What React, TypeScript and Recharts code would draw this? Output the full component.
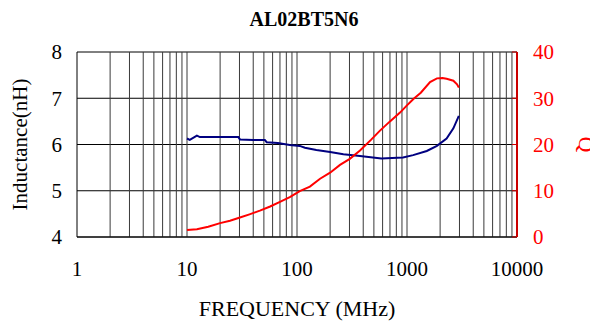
import { ComposedChart, Line, XAxis, YAxis, CartesianGrid, ReferenceLine, Label } from "recharts";

// frequency axis (MHz, log)
const freqTicks = [1, 10, 100, 1000, 10000];
const decades = [1, 10, 100, 1000];
const gridSteps = [2, 3, 4, 5, 6, 7, 8, 9, 10];

// left axis: inductance (nH)
const indTicks = [4, 5, 6, 7, 8];
const indFreq = [10, 10.6, 12.3, 13.1, 20, 29.3, 30.3, 40, 51, 53, 67, 86, 106, 118, 150, 200, 264, 374, 585, 920, 1137, 1513, 1871, 2290, 2640, 2960];
const indValue = [6.13, 6.1, 6.19, 6.16, 6.16, 6.16, 6.11, 6.1, 6.1, 6.05, 6.03, 5.99, 5.97, 5.93, 5.88, 5.84, 5.79, 5.75, 5.7, 5.72, 5.77, 5.86, 5.97, 6.13, 6.35, 6.62];

// right axis: Q
const qTicks = [0, 10, 20, 30, 40];
const qFreq = [10, 12.3, 15.6, 20, 24.6, 30.3, 37, 46, 57, 70, 86, 106, 131, 162, 200, 246, 302, 374, 470, 568, 700, 864, 994, 1150, 1335, 1620, 1871, 2100, 2290, 2640, 2850, 2960];
const qValue = [1.5, 1.7, 2.2, 3.0, 3.5, 4.2, 4.9, 5.7, 6.6, 7.6, 8.6, 9.9, 10.9, 12.6, 13.9, 15.6, 16.9, 18.7, 21.0, 23.0, 25.0, 26.9, 28.4, 29.9, 31.2, 33.5, 34.3, 34.4, 34.2, 33.8, 33.0, 32.3];

const indData = indFreq.map((f, i) => ({ f, v: indValue[i] }));
const qData = qFreq.map((f, i) => ({ f, v: qValue[i] }));
const minorGrid = decades.flatMap((d) => gridSteps.map((s) => d * s));

const font = "'Liberation Serif', 'Times New Roman', serif";
const RED = "#ff0000";

export default function App() {
  return (
    <div style={{ position: "relative", width: 590, height: 313, fontFamily: font }}>
      <div
        style={{
          position: "absolute",
          left: 0,
          top: 0,
          width: 592,
          textAlign: "center",
          fontWeight: "bold",
          fontSize: 20,
          color: "#000",
        }}
      >
        AL02BT5N6
      </div>
      <ComposedChart width={590} height={313} margin={{ top: 44, right: 2, bottom: 0, left: 2 }}>
        <CartesianGrid horizontal vertical={false} stroke="#000" strokeOpacity={1} />
        {minorGrid.map((x) => (
          <ReferenceLine key={x} x={x} stroke="#3a3a3a" strokeWidth={1} />
        ))}
        <XAxis
          dataKey="f"
          type="number"
          scale="log"
          domain={[1, 10000]}
          ticks={freqTicks}
          allowDataOverflow
          height={84}
          tickLine={false}
          tickSize={0}
          tickMargin={24}
          axisLine={{ stroke: "#000" }}
          tick={{ fill: "#000", fontSize: 21, fontFamily: font }}
        >
          <Label
            value="FREQUENCY (MHz)"
            position="insideBottom"
            offset={5}
            style={{ fill: "#000", fontSize: 22, fontFamily: font }}
          />
        </XAxis>
        <YAxis
          domain={[4, 8]}
          ticks={indTicks}
          width={67}
          tickLine={false}
          tickSize={0}
          tickMargin={15}
          axisLine={{ stroke: "#000" }}
          tick={{ fill: "#000", fontSize: 21, fontFamily: font }}
        >
          <Label
            value="Inductance(nH)"
            angle={-90}
            position="insideLeft"
            offset={10}
            style={{ textAnchor: "middle", fill: "#000", fontSize: 21, fontFamily: font }}
          />
        </YAxis>
        <YAxis
          yAxisId="q"
          orientation="right"
          domain={[0, 40]}
          ticks={qTicks}
          width={79}
          tickSize={-5}
          tickMargin={21}
          tickLine={{ stroke: "#cc0000" }}
          axisLine={{ stroke: "#cc0000", strokeWidth: 2 }}
          tick={{ fill: RED, fontSize: 21, fontFamily: font, textAnchor: "start" }}
        >
          <Label
            value="Q"
            angle={90}
            position="insideRight"
            offset={9}
            style={{ textAnchor: "middle", fill: RED, fontSize: 22, fontFamily: font }}
          />
        </YAxis>
        <Line
          data={indData}
          dataKey="v"
          type="linear"
          stroke="#000080"
          strokeWidth={2}
          dot={false}
          isAnimationActive={false}
        />
        <Line
          data={qData}
          dataKey="v"
          yAxisId="q"
          type="linear"
          stroke={RED}
          strokeWidth={2}
          dot={false}
          isAnimationActive={false}
        />
      </ComposedChart>
    </div>
  );
}
